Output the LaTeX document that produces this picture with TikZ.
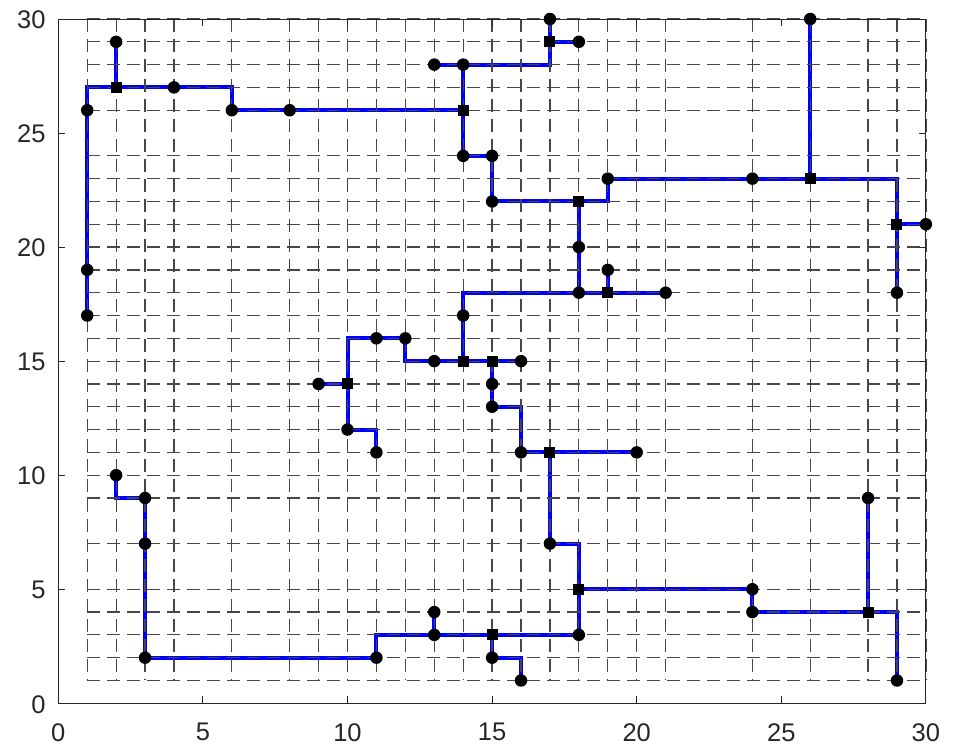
\documentclass[tikz,border=0pt]{standalone}
\usepackage{fontspec}
\setmainfont{Liberation Sans}
\definecolor{axgray}{RGB}{38,38,38}
\definecolor{treeblue}{RGB}{0,0,255}
\begin{document}
\begin{tikzpicture}[x=28.92pt,y=22.81pt,
  hanan/.style={black!72, line width=1.25pt, dash pattern=on 13pt off 7pt},
  tree/.style={treeblue, line width=4pt},
  term/.style={circle, fill=black, inner sep=0pt, minimum size=12.5pt},
  steiner/.style={rectangle, fill=black, inner sep=0pt, minimum size=11pt},
  axisline/.style={axgray, line width=0.9pt},
  ticklabel/.style={text=axgray, inner sep=0pt, font=\fontsize{25.5}{30}\selectfont}]
\useasboundingbox (-58.3pt,-41.7pt) rectangle (894.7pt,703.3pt);
% terminals
\foreach \n/\px/\py in {t1/2/29, t2/1/26, t3/4/27, t4/6/26, t5/8/26, t6/1/19, t7/1/17,
  t8/13/28, t9/14/28, t10/17/30, t11/18/29, t12/14/24, t13/15/24, t14/15/22, t15/19/23,
  t16/24/23, t17/26/30, t18/30/21, t19/29/18, t20/18/20, t21/18/18, t22/19/19, t23/21/18,
  t24/14/17, t25/11/16, t26/12/16, t27/13/15, t28/16/15, t29/9/14, t30/15/14, t31/15/13,
  t32/10/12, t33/11/11, t34/16/11, t35/20/11, t36/2/10, t37/3/9, t38/3/7, t39/3/2,
  t40/11/2, t41/13/4, t42/13/3, t43/15/2, t44/16/1, t45/17/7, t46/18/3, t47/24/5,
  t48/24/4, t49/28/9, t50/29/1,
  s1/2/27, s2/14/26, s3/17/29, s4/18/22, s5/26/23, s6/29/21, s7/19/18, s8/14/15,
  s9/15/15, s10/10/14, s11/17/11, s12/18/5, s13/15/3, s14/28/4}
  \coordinate (\n) at (\px,\py);
% tree edges
\draw[tree] (t7) |- (s1);
\draw[tree] (s1) -- (t1);
\draw[tree] (s1) -| (t4);
\draw[tree] (t4) -- (s2);
\draw[tree] (s2) -- (t9);
\draw[tree] (t8) -- (t9);
\draw[tree] (t9) -| (s3);
\draw[tree] (s3) -- (t10);
\draw[tree] (s3) -- (t11);
\draw[tree] (s2) -- (t12) -- (t13) -- (t14) -- (s4);
\draw[tree] (s4) -| (t15);
\draw[tree] (t15) -- (s5);
\draw[tree] (s5) -- (t17);
\draw[tree] (s5) -| (s6);
\draw[tree] (s6) -- (t18);
\draw[tree] (s6) -- (t19);
\draw[tree] (s4) -- (t21);
\draw[tree] (t21) -- (t23);
\draw[tree] (s7) -- (t22);
\draw[tree] (t21) -| (s8);
\draw[tree] (s8) -| (t26);
\draw[tree] (t26) -| (s10);
\draw[tree] (s10) -- (t29);
\draw[tree] (s10) -- (t32);
\draw[tree] (t32) -| (t33);
\draw[tree] (s8) -- (t28);
\draw[tree] (s9) -- (t31);
\draw[tree] (t31) -| (t34);
\draw[tree] (t34) -- (t35);
\draw[tree] (s11) -- (t45);
\draw[tree] (t45) -| (s12);
\draw[tree] (s12) -- (t47) -- (t48) -- (s14);
\draw[tree] (s14) -- (t49);
\draw[tree] (s14) -| (t50);
\draw[tree] (s12) -- (t46) -- (t42);
\draw[tree] (t42) -| (t40);
\draw[tree] (t42) -- (t41);
\draw[tree] (s13) -- (t43);
\draw[tree] (t43) -| (t44);
\draw[tree] (t40) -- (t39) -- (t37);
\draw[tree] (t37) -| (t36);
% Hanan grid
\foreach \gx in {1,2,3,4,6,8,9,10,11,12,13,14,15,16,17,18,19,20,21,24,26,28,29,30}
  \draw[hanan] (\gx,30) -- (\gx,1);
\foreach \gy in {1,2,3,4,5,7,9,10,11,12,13,14,15,16,17,18,19,20,21,22,23,24,26,27,28,29,30}
  \draw[hanan] (1,\gy) -- (30,\gy);
% axes
\draw[axisline] (0,0) rectangle (30,30);
\foreach \v in {0,5,...,30} {
  \draw[axisline] (\v,0) -- ++(0pt,7pt);
  \draw[axisline] (\v,30) -- ++(0pt,-7pt);
  \draw[axisline] (0,\v) -- ++(7pt,0pt);
  \draw[axisline] (30,\v) -- ++(-7pt,0pt);
  \node[ticklabel, anchor=center] (xl\v) at ([yshift=-29pt]\v,0) {\v};
  \node[ticklabel, anchor=east] (yl\v) at ([xshift=-12.6pt,yshift=-1pt]0,\v) {\v};
}
% markers
\foreach \n in {1,...,50} \node[term] (mt\n) at (t\n) {};
\foreach \n in {1,...,14} \node[steiner] (ms\n) at (s\n) {};
\end{tikzpicture}
\end{document}
